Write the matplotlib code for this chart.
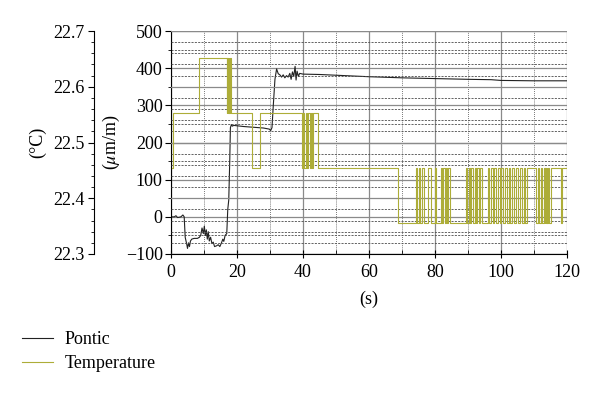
import numpy as np
import matplotlib
matplotlib.use("Agg")
import matplotlib.pyplot as plt
from matplotlib.ticker import MultipleLocator

plt.rcParams['font.family'] = ['Liberation Serif', 'DejaVu Serif']
plt.rcParams['mathtext.fontset'] = 'stix'
plt.rcParams['axes.unicode_minus'] = True

# Pontic strain (um/m)
pontic_t = [0.2, 1.0, 1.5, 2.0, 3.0, 3.6, 4.0, 4.3, 4.8, 5.0, 5.3, 5.6, 5.9, 6.3, 7.0,
            8.0, 8.6, 9.0, 9.4, 9.8, 10.1, 10.4, 10.7, 11.0, 11.3, 11.6, 12.0, 12.4,
            12.8, 13.2, 13.8, 14.3, 14.8, 15.3, 15.7, 16.0, 16.4, 16.9, 17.2, 17.5,
            17.8, 18.0, 18.3, 18.6, 19.0, 22.0, 25.0, 28.0, 29.8, 30.2, 30.6, 31.0,
            31.5, 32.0, 32.5, 33.0, 33.5, 34.0, 34.5, 35.0, 35.5, 36.0, 36.4, 36.8,
            37.2, 37.6, 37.9, 38.2, 38.6, 39.0, 40.0, 45.0, 50.0, 55.0, 60.0, 70.0,
            80.0, 90.0, 97.0, 100.0, 110.0, 120.0]
pontic_v = [0, 0, 3, -2, 0, 5, 0, -55, -75, -85, -70, -80, -65, -60, -58,
            -58, -55, -50, -30, -45, -25, -50, -35, -60, -40, -65, -55, -72,
            -68, -80, -78, -75, -80, -70, -60, -66, -50, -45, 20, 45,
            150, 240, 248, 244, 246, 243, 241, 239, 236, 232, 240, 300,
            370, 398, 385, 382, 376, 382, 374, 380, 376, 386, 370, 390,
            378, 405, 368, 392, 378, 386, 384, 383, 381, 379, 377, 374,
            372, 370, 369, 367, 366, 366]

# temperature (degC), step changes
tL, tM, tH, tT = 22.356, 22.454, 22.553, 22.652
temp_t = [0.4, 0.6, 8.6, 16.9, 17.1, 17.3, 17.5, 17.7, 17.9, 18.1, 24.4, 27.0,
          39.6, 40.0, 40.4, 40.8, 41.2, 41.6, 42.0, 42.4, 42.8, 43.1, 44.6,
          68.9,
          74.2, 74.6, 75.0, 75.5, 76.0, 76.6, 78.0, 78.8, 80.0, 80.3, 81.8, 82.0,
          82.5, 82.9, 83.3, 83.7, 84.0, 84.4,
          89.3, 89.8, 90.2, 90.6, 91.0, 91.5, 92.0, 92.3, 92.8, 93.2, 93.7, 94.2,
          96.0, 96.5, 97.0, 97.5, 98.0, 98.5, 99.0, 99.6, 100.1, 100.6, 101.3, 101.8,
          102.3, 102.8, 103.2, 103.8, 104.5, 105.2, 105.9, 106.3, 107.0, 107.4, 107.8,
          110.7, 111.2, 111.6, 112.0, 112.5, 113.0, 113.2, 113.4, 113.6, 113.8, 114.0,
          114.3, 114.5, 115.0, 118.2, 118.6, 120.0]
temp_v = [tM, tH, tT, tH, tT, tH, tT, tH, tT, tH, tM, tH,
          tM, tH, tM, tH, tM, tH, tM, tH, tM, tH, tM,
          tL,
          tM, tL, tM, tL, tM, tL, tM, tL, tM, tL, tM, tL,
          tM, tL, tM, tL, tM, tL,
          tM, tL, tM, tL, tM, tL, tM, tL, tM, tL, tM, tL,
          tM, tL, tM, tL, tM, tL, tM, tL, tM, tL, tM, tL,
          tM, tL, tM, tL, tM, tL, tM, tL, tM, tL, tM,
          tL, tM, tL, tM, tL, tM, tL, tM, tL, tM, tL,
          tM, tL, tM, tL, tM, tM]

fig = plt.figure(figsize=(6, 3.94), dpi=100)
ax = fig.add_axes([171/600, 1-254/394, 396/600, 223/394])
ax2 = ax.twinx()

grid_c = '#8a8a8a'
dash_c = '#4a4a4a'
ax.set_xlim(0, 120)
ax.set_ylim(-100, 500)
ax.xaxis.set_major_locator(MultipleLocator(20))
ax.xaxis.set_minor_locator(MultipleLocator(10))
ax.yaxis.set_major_locator(MultipleLocator(100))
ax.yaxis.set_minor_locator(MultipleLocator(50))
ax.grid(which='major', color=grid_c, lw=0.9, ls='-')
ax.grid(which='minor', axis='y', color=dash_c, lw=0.6, ls=(0, (2.5, 1.5)))
ax.grid(which='minor', axis='x', color=dash_c, lw=0.6, ls=(0, (1, 1.5)))
ax.set_axisbelow(True)

ax2.set_ylim(22.3, 22.7)
ax2.yaxis.set_major_locator(MultipleLocator(0.1))
ax2.yaxis.set_minor_locator(MultipleLocator(0.02))
ax2.yaxis.set_major_formatter(plt.FormatStrFormatter('%.1f'))
ax2.grid(which='major', axis='y', color=grid_c, lw=0.9, ls='-')
ax2.grid(which='minor', axis='y', color=dash_c, lw=0.6, ls=(0, (2.5, 1.5)))
ax2.set_axisbelow(True)

line_t, = ax2.step(temp_t, temp_v, where='post', color='#adad38', lw=0.8)
line_p, = ax.plot(pontic_t, pontic_v, color='#222222', lw=0.8)

# spines
for s in ['top', 'right']:
    ax.spines[s].set_visible(False)
    ax2.spines[s].set_visible(False)
ax2.spines['bottom'].set_visible(False)
ax2.yaxis.set_ticks_position('left')
ax2.yaxis.set_label_position('left')
ax2.spines['left'].set_position(('axes', (94-171)/396))

fs = 13
ax.tick_params(axis='x', which='major', direction='inout', length=6, labelsize=fs, pad=4)
ax.tick_params(axis='x', which='minor', direction='in', length=3)
ax.tick_params(axis='y', which='major', direction='out', length=4, labelsize=fs, pad=2)
ax.tick_params(axis='y', which='minor', direction='out', length=2)
ax2.tick_params(axis='y', which='major', direction='out', length=4, labelsize=fs, pad=3)
ax2.tick_params(axis='y', which='minor', direction='out', length=2.5)

ax.set_xlabel('(s)', fontsize=fs)
ax.xaxis.set_label_coords(0.5, -0.163)
ax.set_ylabel(r'($\mu$m/m)', fontsize=fs)
ax.yaxis.set_label_coords(-0.124, 0.5)
ax2.set_ylabel('(°C)', fontsize=fs)
ax2.yaxis.set_label_coords(-0.316, 0.5)

fig.legend([line_p, line_t], ['Pontic', 'Temperature'], loc='upper left',
           bbox_to_anchor=(22/600, 1-331/394), frameon=False, fontsize=fs,
           borderpad=0, borderaxespad=0, handlelength=1.7, handletextpad=0.67,
           labelspacing=0.38)

fig.savefig('out.png', dpi=100)
